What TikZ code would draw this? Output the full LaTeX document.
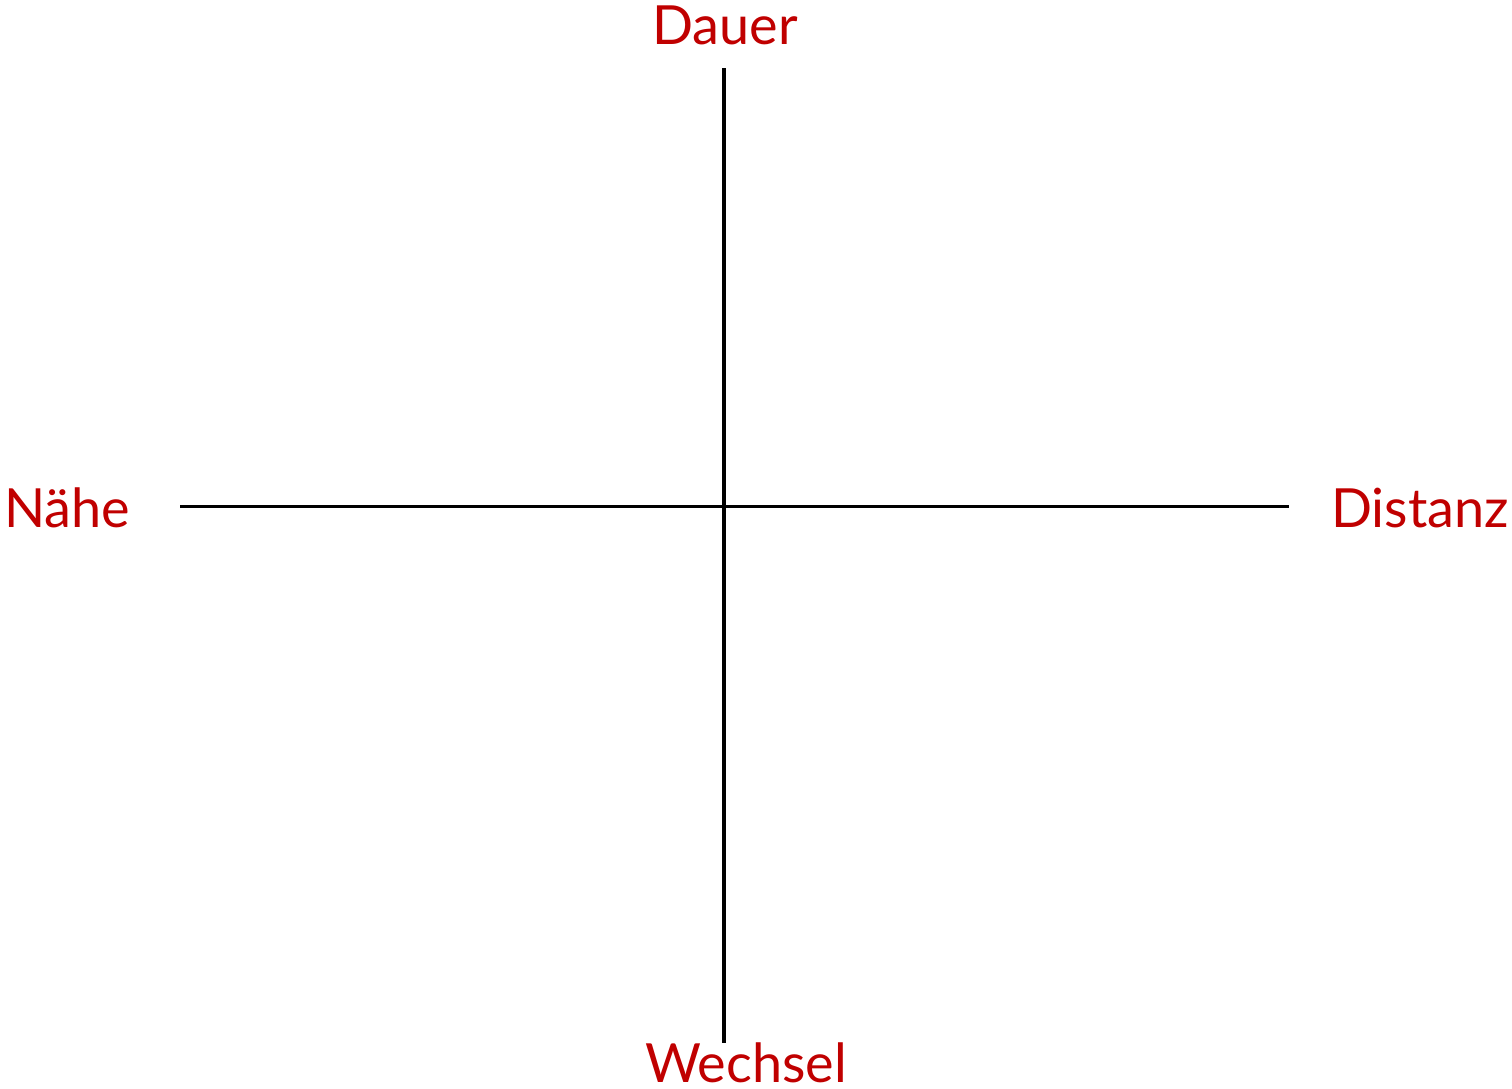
\documentclass[tikz,border=0pt]{standalone}
\usepackage{fontspec}
\setmainfont{Lato}
\definecolor{labelred}{HTML}{C00000}
\tikzset{
  axislabel/.style={text=labelred, font=\fontsize{54}{60}\selectfont, inner sep=0pt},
  axisline/.style={draw=black, line width=3pt}
}
\begin{document}
\begin{tikzpicture}[x=1pt,y=-1pt]
\useasboundingbox (0,0) rectangle (1512,1088);
\coordinate (top) at (724,68);
\coordinate (bottom) at (724,1043);
\coordinate (left) at (180,506);
\coordinate (right) at (1289,506);
\draw[axisline, line width=4pt] (top) -- (bottom);
\draw[axisline] (left) -- (right);
\node[axislabel] (dauer) at (725,25) {Dauer};
\node[axislabel, text depth=0pt, anchor=base] (wechsel) at (746,1082) {Wechsel};
\node[axislabel, anchor=west] (naehe) at (4,508) {Nähe};
\node[axislabel, anchor=east] (distanz) at (1509,508) {Distanz};
\end{tikzpicture}
\end{document}
